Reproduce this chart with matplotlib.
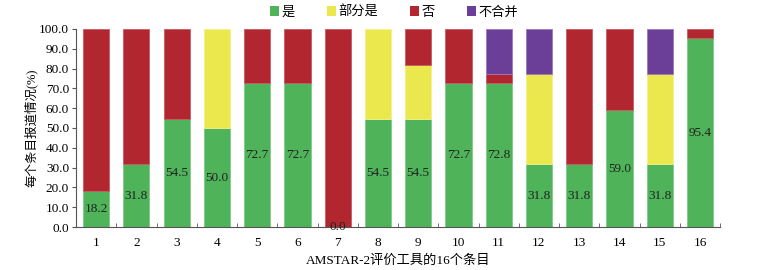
import numpy as np
import matplotlib
matplotlib.use("Agg")
from matplotlib import pyplot as plt
from matplotlib.ticker import FixedLocator

plt.rcParams['font.family'] = ['Liberation Serif', 'Noto Sans CJK SC']

items = [str(i) for i in range(1, 17)]
shi = [18.2, 31.8, 54.5, 50.0, 72.7, 72.7, 0.0, 54.5, 54.5, 72.7, 72.8, 31.8, 31.8, 59.0, 31.8, 95.4]
bufen = [0, 0, 0, 50.0, 0, 0, 0, 45.5, 27.3, 0, 0, 45.5, 0, 0, 45.5, 0]
fou = [81.8, 68.2, 45.5, 0, 27.3, 27.3, 100.0, 0, 18.2, 27.3, 4.5, 0, 68.2, 41.0, 0, 4.6]
buhebing = [0, 0, 0, 0, 0, 0, 0, 0, 0, 0, 22.7, 22.7, 0, 0, 22.7, 0]
yticks = [0, 10, 20, 30, 40, 50, 60, 70, 80, 90, 100]

series = [("是", shi, "#4fb35a", "#7fcb86"),
          ("部分是", bufen, "#ebe84d", "#f3f08a"),
          ("否", fou, "#b22630", "#c95a62"),
          ("不合并", buhebing, "#6b3f98", "#9a7bbd")]

fig = plt.figure(figsize=(7.58, 2.70), dpi=100)
ax = fig.add_axes([0.1003, 0.159, 0.8497, 0.734])

x = np.arange(1, 17)
bottom = np.zeros(16)
for name, vals, col, edge in series:
    vals = np.array(vals)
    lw = np.where(vals > 0, 0.6, 0.0)   # no edge line for empty parts
    ax.bar(x, vals, width=0.65, bottom=bottom, color=col, edgecolor=edge,
           linewidth=lw, label=name)
    bottom += vals

# numbers of "是" in the middle of the green part
for xi, v in zip(x, shi):
    ax.text(xi, v / 2, "%.1f" % v, ha="center", va="center", fontsize=9.5, color="#222222")

ax.set_xlim(0.5, 16.5)
ax.set_ylim(0, 100)
ax.set_yticks(yticks)
ax.set_yticklabels(["%.1f" % v for v in yticks])
ax.set_xticks(x)
ax.set_xticklabels(items)
ax.xaxis.set_minor_locator(FixedLocator(np.arange(1.5, 16.6, 1.0)))
ax.tick_params(axis="x", which="major", length=0, labelsize=9.5, pad=7)
ax.tick_params(axis="x", which="minor", direction="in", length=3, color="#555555")
ax.tick_params(axis="y", length=3, labelsize=9.5, color="#555555", pad=2)

for s in ["top", "right"]:
    ax.spines[s].set_visible(False)
for s in ["left", "bottom"]:
    ax.spines[s].set_color("#555555")
    ax.spines[s].set_linewidth(0.8)

ax.set_ylabel("每个条目报道情况(%)", fontsize=9, labelpad=1)
ax.set_xlabel("AMSTAR-2评价工具的16个条目", fontsize=9.5, labelpad=4)

leg = ax.legend(loc="lower center", bbox_to_anchor=(0.494, 1.025), ncol=4, frameon=False,
                handlelength=0.7, handleheight=0.7, handletextpad=0.2, columnspacing=2.4,
                fontsize=9.5, borderaxespad=0)
for h in leg.legend_handles:
    h.set_linewidth(0)

fig.savefig("out.png", dpi=100)
